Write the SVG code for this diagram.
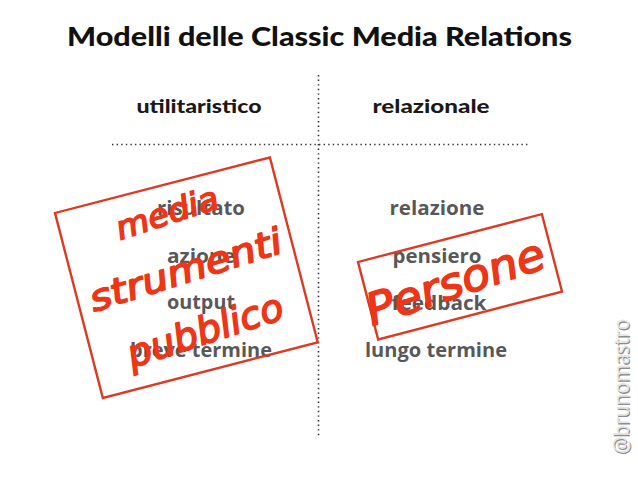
<svg xmlns="http://www.w3.org/2000/svg" width="638" height="479" viewBox="0 0 638 479">
<style>
.title{font-family:Lato,"Open Sans","Liberation Sans",sans-serif;font-weight:900;font-size:27px;fill:#111}
.head{font-family:Lato,"Open Sans","Liberation Sans",sans-serif;font-weight:900;font-size:19px;fill:#1a1a1a;text-anchor:middle}
.item{font-family:"Open Sans","Liberation Sans",sans-serif;font-weight:700;font-size:19px;fill:#58585a;text-anchor:middle}
.dot{stroke:#333;stroke-width:1.6;stroke-dasharray:1.4 3.2;fill:none}
.stamp{fill:none;stroke:#dc3a22;stroke-width:2.4}
.hand{font-family:"DejaVu Sans",sans-serif;font-weight:400;font-style:oblique;fill:#ee3515;stroke:#ee3515;stroke-width:1.6;stroke-linejoin:round}
.wm{font-family:"Open Sans","Liberation Sans",sans-serif;font-weight:400;font-size:22px}
</style>
<rect width="638" height="479" fill="#fff"/>
<g id="title"><text class="title" x="67" y="46" textLength="505" lengthAdjust="spacingAndGlyphs">Modelli delle Classic Media Relations</text></g>
<g id="grid">
<line class="dot" x1="318.5" y1="75" x2="318.5" y2="438"/>
<line class="dot" x1="112" y1="144.5" x2="530" y2="144.5"/>
</g>
<g id="headers">
<text class="head" x="199" y="113" textLength="125" lengthAdjust="spacingAndGlyphs">utilitaristico</text>
<text class="head" x="431" y="113" textLength="117" lengthAdjust="spacingAndGlyphs">relazionale</text>
</g>
<g id="left-col">
<text class="item" x="201" y="215" textLength="88" lengthAdjust="spacingAndGlyphs">risultato</text>
<text class="item" x="201" y="263" textLength="68" lengthAdjust="spacingAndGlyphs">azione</text>
<text class="item" x="201" y="309" textLength="68" lengthAdjust="spacingAndGlyphs">output</text>
<text class="item" x="201" y="357" textLength="142" lengthAdjust="spacingAndGlyphs">breve termine</text>
</g>
<g id="right-col">
<text class="item" x="437" y="215" textLength="95" lengthAdjust="spacingAndGlyphs">relazione</text>
<text class="item" x="437" y="263" textLength="89" lengthAdjust="spacingAndGlyphs">pensiero</text>
<text class="item" x="439" y="310" textLength="95" lengthAdjust="spacingAndGlyphs">feedback</text>
<text class="item" x="436" y="357" textLength="142" lengthAdjust="spacingAndGlyphs">lungo termine</text>
</g>
<g id="stamp-left">
<rect class="stamp" x="0" y="0" width="222" height="191" transform="translate(55 213) rotate(-14.5)"/>
<text class="hand" font-size="32" transform="translate(120 240) rotate(-18)" textLength="106" lengthAdjust="spacingAndGlyphs">media</text>
<text class="hand" font-size="36" transform="translate(94 312) rotate(-17.5)" textLength="200" lengthAdjust="spacingAndGlyphs">strumenti</text>
<text class="hand" font-size="38" transform="translate(132 368) rotate(-18)" textLength="162" lengthAdjust="spacingAndGlyphs">pubblico</text>
</g>
<g id="stamp-right">
<rect class="stamp" x="0" y="0" width="190" height="80" transform="translate(358 262) rotate(-14.6)"/>
<text class="hand" font-size="44" transform="translate(372 326) rotate(-18.5)" textLength="186" lengthAdjust="spacingAndGlyphs">Persone</text>
</g>
<g id="watermark">
<text class="wm" fill="#8c8c8c" transform="translate(630 455) rotate(-90)" textLength="135" lengthAdjust="spacingAndGlyphs">@brunomastro</text>
<text class="wm" fill="#e4e4e4" transform="translate(628.5 453.5) rotate(-90)" textLength="135" lengthAdjust="spacingAndGlyphs">@brunomastro</text>
</g>
</svg>
